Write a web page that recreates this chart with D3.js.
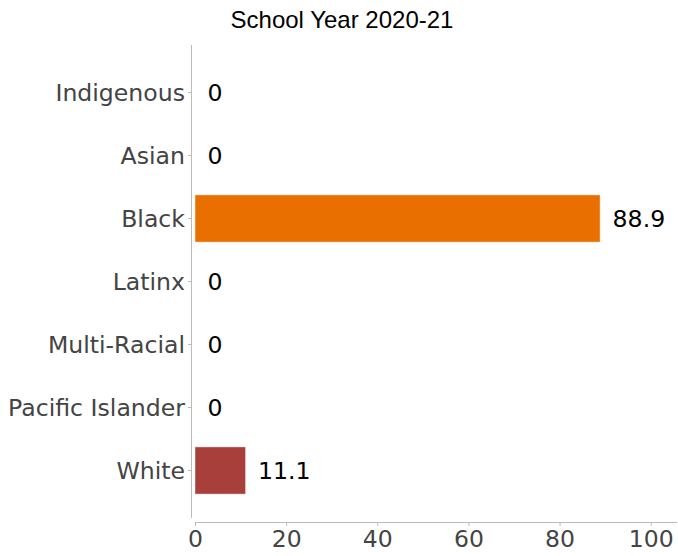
<!DOCTYPE html>
<html lang="en">
<head>
    <meta charset="UTF-8">
    <script src="https://d3js.org/d3.v7.min.js"></script>
    <style>
        body { margin: 0; background: #fff; }
    </style>
</head>
<body>
<div id="chart"></div>
<script>
    // data
    var categories = ["Indigenous", "Asian", "Black", "Latinx", "Multi-Racial", "Pacific Islander", "White"];
    var values = [0, 0, 88.9, 0, 0, 0, 11.1];
    var colors = ["#e97000", "#e97000", "#e97000", "#e97000", "#e97000", "#e97000", "#a83f3b"];
    var xTicks = [0, 20, 40, 60, 80, 100];
    var title = "School Year 2020-21";

    var width = 678, height = 556;
    var margin = {top: 61, right: 1, bottom: 34, left: 195};

    var svg = d3.select("#chart")
        .append("svg")
            .attr("width", width)
            .attr("height", height);

    var x = d3.scaleLinear()
        .domain([0, 100])
        .range([margin.left, 650.7]);

    var y = d3.scaleBand()
        .domain(categories)
        .range([margin.top, margin.top + 63 * 7])
        .paddingInner(0.25)
        .paddingOuter(0.125);

    // title
    svg.append("text")
        .attr("x", 342)
        .attr("y", 28)
        .attr("text-anchor", "middle")
        .style("font-family", "Liberation Sans, Arial, sans-serif")
        .style("font-size", "24px")
        .attr("fill", "#000")
        .text(title);

    // y axis line + ticks
    svg.append("line")
        .attr("x1", 191.5).attr("x2", 191.5)
        .attr("y1", 45).attr("y2", 518)
        .attr("stroke", "#bbb").attr("stroke-width", 1);

    var yg = svg.append("g");
    categories.forEach(function(c) {
        var cy = y(c) + y.bandwidth() / 2;
        yg.append("line")
            .attr("x1", 188).attr("x2", 191.5)
            .attr("y1", cy).attr("y2", cy)
            .attr("stroke", "#bbb");
        yg.append("text")
            .attr("x", 185)
            .attr("y", cy)
            .attr("dy", "0.36em")
            .attr("text-anchor", "end")
            .style("font-family", "DejaVu Sans, sans-serif")
            .style("font-size", "23.6px")
            .attr("fill", "#444")
            .text(c);
    });

    // x axis
    var xAxis = d3.axisBottom(x)
        .tickValues(xTicks)
        .tickSize(4)
        .tickSizeOuter(0);

    var xg = svg.append("g")
        .attr("transform", "translate(0,522)")
        .call(xAxis);
    xg.select(".domain")
        .attr("d", "M" + x(0) + ",0.5H677")
        .attr("stroke", "#bbb");
    xg.selectAll(".tick line").attr("stroke", "#bbb");
    xg.selectAll(".tick text")
        .attr("y", 8)
        .style("font-family", "DejaVu Sans, sans-serif")
        .style("font-size", "23.5px")
        .attr("fill", "#444");

    // bars
    svg.append("g").selectAll("rect")
        .data(values)
        .enter().append("rect")
            .attr("x", x(0))
            .attr("y", function(d, i) { return y(categories[i]); })
            .attr("width", function(d) { return x(d) - x(0); })
            .attr("height", y.bandwidth())
            .attr("fill", function(d, i) { return colors[i]; })
            .attr("stroke", "rgba(255,255,255,0.45)")
            .attr("stroke-width", function(d) { return d > 0 ? 1 : 0; });

    // value labels
    svg.append("g").selectAll("text")
        .data(values)
        .enter().append("text")
            .attr("x", function(d) { return x(d) + 12.5; })
            .attr("y", function(d, i) { return y(categories[i]) + y.bandwidth() / 2; })
            .attr("dy", "0.36em")
            .style("font-family", "DejaVu Sans, sans-serif")
            .style("font-size", "23.6px")
            .attr("fill", "#000")
            .text(function(d) { return d; });
</script>
</body>
</html>
